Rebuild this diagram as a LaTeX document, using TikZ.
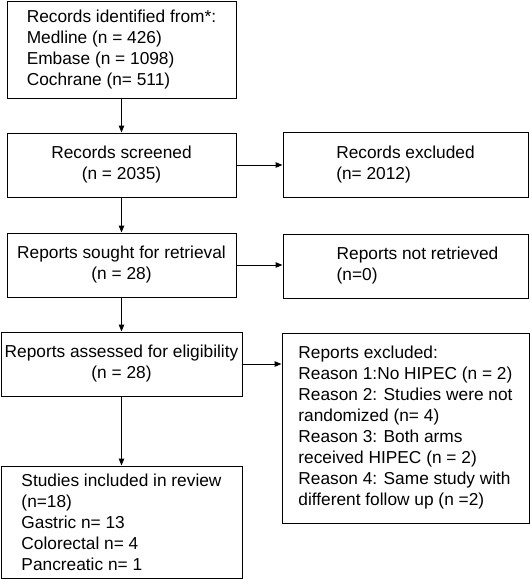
\documentclass[tikz,border=0pt]{standalone}
\usepackage{fontspec}
\setmainfont{Liberation Sans}
\usetikzlibrary{arrows.meta}

\begin{document}
\begin{tikzpicture}[x=1pt,y=1pt]
\tikzstyle{every node}+=[inner sep=0pt, font=\fontsize{17.3}{21}\selectfont]
\tikzstyle{box}=[draw=black, line width=1pt, align=left]
\tikzstyle{flow}=[black, line width=1pt, -{Triangle[length=7pt,width=5.5pt]}]
\useasboundingbox (0,0) rectangle (530,-579);
\node [box, minimum width=229, minimum height=97] (identified) at (121.5,-49.5) {Records identified from*:\\Medline (n = 426)\\Embase (n = 1098)\\Cochrane (n= 511)};
\node [box, align=center, minimum width=229, minimum height=64] (screened) at (121.5,-165) {Records screened\\(n = 2035)};
\node [box, align=center, minimum width=229, minimum height=64] (sought) at (121.5,-265) {Reports sought for retrieval\\(n = 28)};
\node [box, align=center, minimum width=241, minimum height=64] (assessed) at (121.5,-364) {Reports assessed for eligibility\\(n = 28)};
\node [box, minimum width=241, minimum height=112] (included) at (121.5,-522) {Studies included in review\\(n=18)\\Gastric n= 13\\Colorectal n= 4\\Pancreatic n= 1};
\node [box, minimum width=245, minimum height=65] (excluded) at (405.5,-165) {Records excluded\\(n= 2012)};
\node [box, minimum width=245, minimum height=64] (notretrieved) at (405.5,-266) {\hspace*{24pt}Reports not retrieved\\\hspace*{24pt}(n=0)};
\node [box, minimum width=247, minimum height=190] (reasons) at (405.5,-428) {Reports excluded:\\Reason 1:No HIPEC (n = 2)\\Reason 2: Studies were not\\randomized (n= 4)\\Reason 3: Both arms\\received HIPEC (n = 2)\\Reason 4: Same study with\\different follow up (n =2)};
\draw [flow] (identified) -- (screened);
\draw [flow] (screened) -- (sought);
\draw [flow] (sought) -- (assessed);
\draw [flow] (assessed) -- (included);
\draw [flow] (screened) -- (excluded);
\draw [flow] (sought.east) -- (sought.east -| notretrieved.west);
\draw [flow] (assessed.east) -- (assessed.east -| reasons.west);
\end{tikzpicture}
\end{document}
